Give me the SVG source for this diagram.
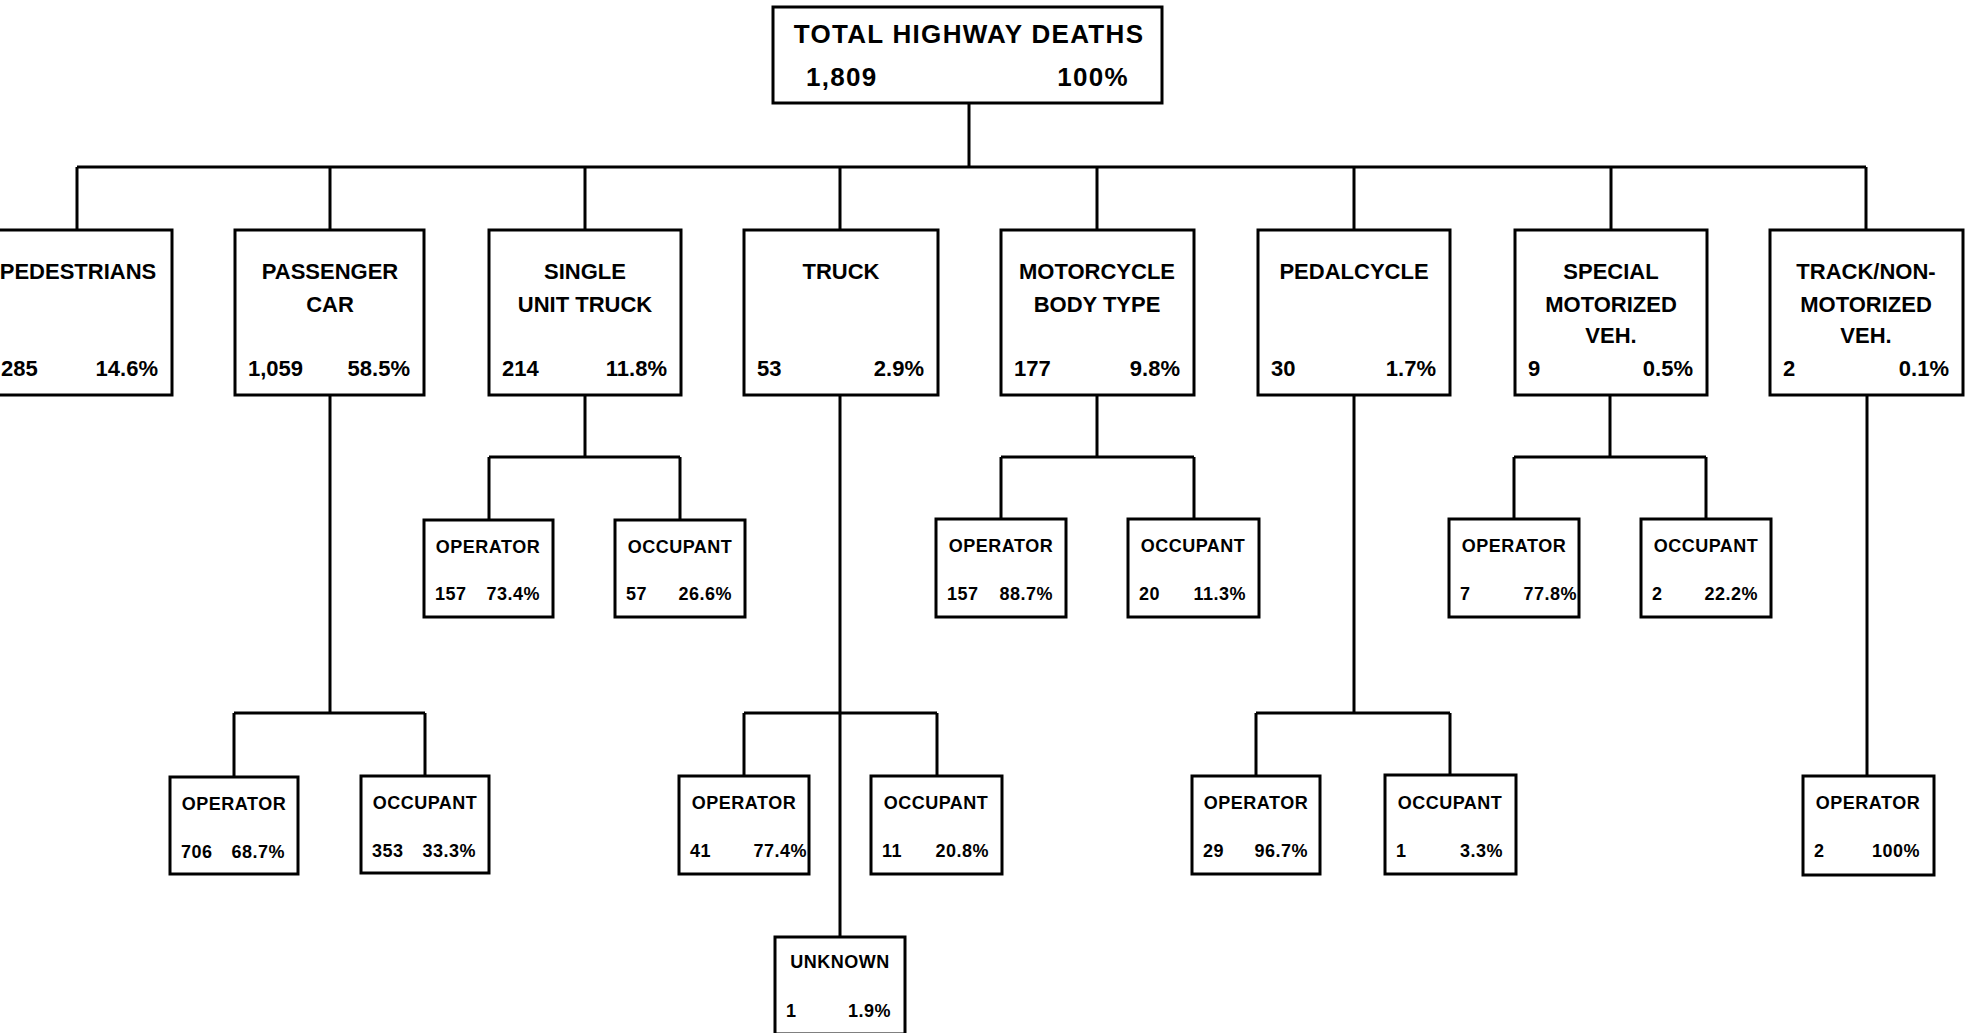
<svg xmlns="http://www.w3.org/2000/svg" width="1979" height="1033" viewBox="0 0 1979 1033">
<style>
.bx{fill:#fff;stroke:#000;stroke-width:3}
.ln{stroke:#000;stroke-width:3;fill:none}
text{font-family:"Liberation Sans",Arial,sans-serif;font-weight:bold;fill:#000}
.t0{font-size:26px;letter-spacing:1.3px}
.t1{font-size:22px}
.t2{font-size:18px;letter-spacing:0.5px}
.m{text-anchor:middle}
.e{text-anchor:end}
</style>
<rect width="1979" height="1033" fill="#fff"/>
<g id="connectors" class="ln">
<path d="M969 103V167M77 167H1866M77 167V230M330 167V230M585 167V230M840 167V230M1097 167V230M1354 167V230M1611 167V230M1866 167V230"/>
<path d="M330 395V713M234 713H425M234 713V777M425 713V776"/>
<path d="M585 395V457M489 457H680M489 457V520M680 457V520"/>
<path d="M840 395V937M744 713H937M744 713V776M937 713V776"/>
<path d="M1097 395V457M1001 457H1194M1001 457V519M1194 457V519"/>
<path d="M1354 395V713M1256 713H1450M1256 713V776M1450 713V776"/>
<path d="M1610 395V457M1514 457H1706M1514 457V519M1706 457V519"/>
<path d="M1867 395V776"/>
</g>
<g id="total"><rect class="bx" x="773" y="7" width="389" height="96"/>
<text class="t0 m" x="969" y="43">TOTAL HIGHWAY DEATHS</text>
<text class="t0" x="806" y="86">1,809</text><text class="t0 e" x="1129" y="86">100%</text></g>

<g id="pedestrians"><rect class="bx" x="-20" y="230" width="192" height="165"/>
<text class="t1 m" x="78" y="279">PEDESTRIANS</text>
<text class="t1" x="1" y="376">285</text><text class="t1 e" x="158" y="376">14.6%</text></g>
<g id="passenger"><rect class="bx" x="235" y="230" width="189" height="165"/>
<text class="t1 m" x="330" y="279">PASSENGER</text><text class="t1 m" x="330" y="312">CAR</text>
<text class="t1" x="248" y="376">1,059</text><text class="t1 e" x="410" y="376">58.5%</text></g>
<g id="single-unit"><rect class="bx" x="489" y="230" width="192" height="165"/>
<text class="t1 m" x="585" y="279">SINGLE</text><text class="t1 m" x="585" y="312">UNIT TRUCK</text>
<text class="t1" x="502" y="376">214</text><text class="t1 e" x="667" y="376">11.8%</text></g>
<g id="truck"><rect class="bx" x="744" y="230" width="194" height="165"/>
<text class="t1 m" x="841" y="279">TRUCK</text>
<text class="t1" x="757" y="376">53</text><text class="t1 e" x="924" y="376">2.9%</text></g>
<g id="motorcycle"><rect class="bx" x="1001" y="230" width="193" height="165"/>
<text class="t1 m" x="1097" y="279">MOTORCYCLE</text><text class="t1 m" x="1097" y="312">BODY TYPE</text>
<text class="t1" x="1014" y="376">177</text><text class="t1 e" x="1180" y="376">9.8%</text></g>
<g id="pedalcycle"><rect class="bx" x="1258" y="230" width="192" height="165"/>
<text class="t1 m" x="1354" y="279">PEDALCYCLE</text>
<text class="t1" x="1271" y="376">30</text><text class="t1 e" x="1436" y="376">1.7%</text></g>
<g id="special"><rect class="bx" x="1515" y="230" width="192" height="165"/>
<text class="t1 m" x="1611" y="279">SPECIAL</text><text class="t1 m" x="1611" y="312">MOTORIZED</text><text class="t1 m" x="1611" y="343">VEH.</text>
<text class="t1" x="1528" y="376">9</text><text class="t1 e" x="1693" y="376">0.5%</text></g>
<g id="track"><rect class="bx" x="1770" y="230" width="193" height="165"/>
<text class="t1 m" x="1866" y="279">TRACK/NON-</text><text class="t1 m" x="1866" y="312">MOTORIZED</text><text class="t1 m" x="1866" y="343">VEH.</text>
<text class="t1" x="1783" y="376">2</text><text class="t1 e" x="1949" y="376">0.1%</text></g>

<g id="pass-op"><rect class="bx" x="170" y="777" width="128" height="97"/>
<text class="t2 m" x="234" y="810">OPERATOR</text><text class="t2" x="181" y="858">706</text><text class="t2 e" x="285" y="858">68.7%</text></g>
<g id="pass-occ"><rect class="bx" x="361" y="776" width="128" height="97"/>
<text class="t2 m" x="425" y="809">OCCUPANT</text><text class="t2" x="372" y="857">353</text><text class="t2 e" x="476" y="857">33.3%</text></g>
<g id="sut-op"><rect class="bx" x="424" y="520" width="129" height="97"/>
<text class="t2 m" x="488" y="553">OPERATOR</text><text class="t2" x="435" y="600">157</text><text class="t2 e" x="540" y="600">73.4%</text></g>
<g id="sut-occ"><rect class="bx" x="615" y="520" width="130" height="97"/>
<text class="t2 m" x="680" y="553">OCCUPANT</text><text class="t2" x="626" y="600">57</text><text class="t2 e" x="732" y="600">26.6%</text></g>
<g id="truck-op"><rect class="bx" x="679" y="776" width="130" height="98"/>
<text class="t2 m" x="744" y="809">OPERATOR</text><text class="t2" x="690" y="857">41</text><text class="t2 e" x="807" y="857">77.4%</text></g>
<g id="truck-occ"><rect class="bx" x="871" y="776" width="131" height="98"/>
<text class="t2 m" x="936" y="809">OCCUPANT</text><text class="t2" x="882" y="857">11</text><text class="t2 e" x="989" y="857">20.8%</text></g>
<g id="truck-unk"><rect class="bx" x="775" y="937" width="130" height="97"/>
<text class="t2 m" x="840" y="968">UNKNOWN</text><text class="t2" x="786" y="1017">1</text><text class="t2 e" x="891" y="1017">1.9%</text></g>
<g id="moto-op"><rect class="bx" x="936" y="519" width="130" height="98"/>
<text class="t2 m" x="1001" y="552">OPERATOR</text><text class="t2" x="947" y="600">157</text><text class="t2 e" x="1053" y="600">88.7%</text></g>
<g id="moto-occ"><rect class="bx" x="1128" y="519" width="131" height="98"/>
<text class="t2 m" x="1193" y="552">OCCUPANT</text><text class="t2" x="1139" y="600">20</text><text class="t2 e" x="1246" y="600">11.3%</text></g>
<g id="pedal-op"><rect class="bx" x="1192" y="776" width="128" height="98"/>
<text class="t2 m" x="1256" y="809">OPERATOR</text><text class="t2" x="1203" y="857">29</text><text class="t2 e" x="1308" y="857">96.7%</text></g>
<g id="pedal-occ"><rect class="bx" x="1385" y="775" width="131" height="99"/>
<text class="t2 m" x="1450" y="809">OCCUPANT</text><text class="t2" x="1396" y="857">1</text><text class="t2 e" x="1503" y="857">3.3%</text></g>
<g id="spec-op"><rect class="bx" x="1449" y="519" width="130" height="98"/>
<text class="t2 m" x="1514" y="552">OPERATOR</text><text class="t2" x="1460" y="600">7</text><text class="t2 e" x="1577" y="600">77.8%</text></g>
<g id="spec-occ"><rect class="bx" x="1641" y="519" width="130" height="98"/>
<text class="t2 m" x="1706" y="552">OCCUPANT</text><text class="t2" x="1652" y="600">2</text><text class="t2 e" x="1758" y="600">22.2%</text></g>
<g id="track-op"><rect class="bx" x="1803" y="776" width="131" height="99"/>
<text class="t2 m" x="1868" y="809">OPERATOR</text><text class="t2" x="1814" y="857">2</text><text class="t2 e" x="1920" y="857">100%</text></g>
</svg>
